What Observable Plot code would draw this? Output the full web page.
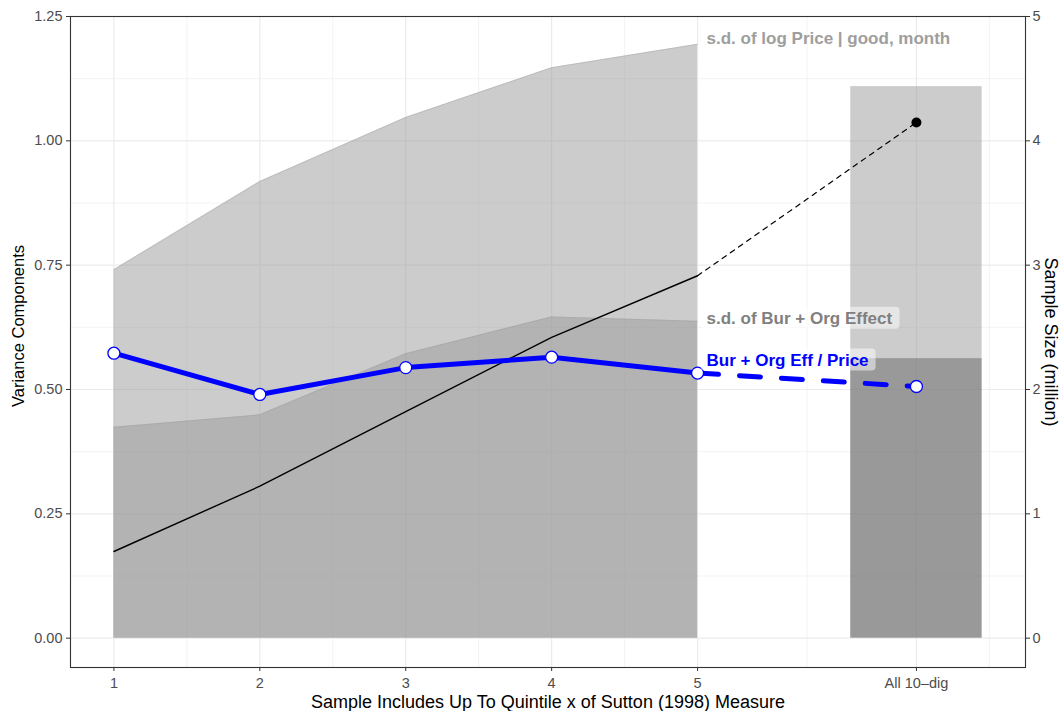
<!DOCTYPE html>
<html><head><meta charset="utf-8">
<script src="https://cdn.jsdelivr.net/npm/d3@7"></script>
<script src="https://cdn.jsdelivr.net/npm/@observablehq/plot@0.6"></script>
<style>
body{margin:0;background:#fff;}
#chart svg{font-family:"Liberation Sans",Arial,Helvetica,sans-serif;}
</style></head><body><div id="chart"></div>
<script>
// ---- data ----
const quintiles = [1, 2, 3, 4, 5];
const sdLogPrice = [0.741, 0.918, 1.047, 1.147, 1.194];
const sdBurOrg = [0.424, 0.449, 0.572, 0.646, 0.637];
const burOrgShare = [0.573, 0.490, 0.544, 0.565, 0.533];
const sampleSizeM = [0.697, 1.222, 1.822, 2.420, 2.915];
const allCategory = 6.5;
const allSdLogPrice = 1.109;
const allSdBurOrg = 0.562;
const allBurOrgShare = 0.506;
const allSampleSizeM = 4.148;
const xTickValues = [1, 2, 3, 4, 5, 6.5];
const xTickLabels = ["1", "2", "3", "4", "5", "All 10–dig"];
const yTickValues = [0, 0.25, 0.5, 0.75, 1, 1.25];
const yTickLabels = ["0.00", "0.25", "0.50", "0.75", "1.00", "1.25"];
const rightTickLabels = ["0", "1", "2", "3", "4", "5"];
const seriesLabels = ["s.d. of log Price | good, month", "s.d. of Bur + Org Effect", "Bur + Org Eff / Price"];
const xTitle = "Sample Includes Up To Quintile x of Sutton (1998) Measure";
const yTitle = "Variance Components";
const y2Title = "Sample Size (million)";

// ---- derived tables ----
const ratio = +rightTickLabels[rightTickLabels.length - 1] / yTickValues[yTickValues.length - 1];
const rows = quintiles.map((q, i) => ({q, p: sdLogPrice[i], b: sdBurOrg[i], s: burOrgShare[i], n: sampleSizeM[i] / ratio}));
const ext = [{q: quintiles[4], s: burOrgShare[4], n: sampleSizeM[4] / ratio}, {q: allCategory, s: allBurOrgShare, n: allSampleSizeM / ratio}];
const bars = [{q: allCategory, top: allSdLogPrice, fill: "#999999"}, {q: allCategory, top: allSdBurOrg, fill: "#666666"}];
const xMinor = d3.pairs(xTickValues).map(([a, b]) => (a + b) / 2).concat([allCategory + 0.5]);
const yMinor = d3.pairs(yTickValues).map(([a, b]) => (a + b) / 2);
const halfBar = 0.45;

function seriesLabel(i, yValue, dy, color, box) {
  return Plot.text([{q: quintiles[4], y: yValue, t: seriesLabels[i]}], {
    x: "q", y: "y", text: "t", dx: 9, dy, fill: color, textAnchor: "start",
    fontSize: 17, fontWeight: "bold", className: box ? "boxed-label" : "plain-label"
  });
}

const grid = "#ebebeb";
const chart = Plot.plot({
  width: 1063, height: 711,
  marginLeft: 70, marginRight: 38, marginTop: 16, marginBottom: 44,
  style: {fontFamily: "Liberation Sans, Arial, sans-serif", fontSize: "14.5px", color: "#4d4d4d", background: "#fff"},
  x: {domain: [0.7025, 7.2475], axis: null},
  y: {domain: [-0.059, 1.25], axis: null},
  marks: [
    Plot.gridX(xMinor, {stroke: grid, strokeOpacity: 1, strokeWidth: 0.6}),
    Plot.gridY(yMinor, {stroke: grid, strokeOpacity: 1, strokeWidth: 0.6}),
    Plot.gridX(xTickValues, {stroke: grid, strokeOpacity: 1, strokeWidth: 1.2}),
    Plot.gridY(yTickValues, {stroke: grid, strokeOpacity: 1, strokeWidth: 1.2}),
    Plot.rect(bars, {x1: d => d.q - halfBar, x2: d => d.q + halfBar, y1: 0, y2: "top", fill: "fill", fillOpacity: 0.5}),
    Plot.areaY(rows, {x: "q", y: "p", fill: "#999999", fillOpacity: 0.5}),
    Plot.areaY(rows, {x: "q", y: "b", fill: "#999999", fillOpacity: 0.5}),
    Plot.lineY(rows, {x: "q", y: "p", stroke: "#999999", strokeOpacity: 0.3, strokeWidth: 1}),
    Plot.lineY(rows, {x: "q", y: "b", stroke: "#999999", strokeOpacity: 0.3, strokeWidth: 1}),
    Plot.line(rows, {x: "q", y: "n", stroke: "#000", strokeWidth: 1.4}),
    Plot.line(ext, {x: "q", y: "n", stroke: "#000", strokeWidth: 1.2, strokeDasharray: "5,5"}),
    Plot.dot(ext.slice(1), {x: "q", y: "n", r: 5, fill: "#000", stroke: "none"}),
    Plot.line(rows, {x: "q", y: "s", stroke: "#0000ff", strokeWidth: 5}),
    Plot.line(ext, {x: "q", y: "s", stroke: "#0000ff", strokeWidth: 5, strokeDasharray: "21,21"}),
    Plot.dot(rows.concat(ext.slice(1)), {x: "q", y: "s", r: 6, fill: "#fff", stroke: "#0000ff", strokeWidth: 1.3}),
    seriesLabel(0, sdLogPrice[4], -6, "#9e9e9e", false),
    seriesLabel(1, sdBurOrg[4], -3, "#808080", true),
    seriesLabel(2, burOrgShare[4], -13, "#0000ff", true),
    Plot.frame({stroke: "#333", strokeWidth: 1.1}),
    Plot.axisX(xTickValues, {tickFormat: d => xTickLabels[xTickValues.indexOf(d)], tickSize: 4, tickPadding: 6, stroke: "#333", fill: "#4d4d4d", label: null}),
    Plot.axisY(yTickValues, {anchor: "left", tickFormat: d => yTickLabels[yTickValues.indexOf(d)], tickSize: 4, tickPadding: 4, stroke: "#333", fill: "#4d4d4d", label: null}),
    Plot.axisY(yTickValues, {anchor: "right", tickFormat: d => rightTickLabels[yTickValues.indexOf(d)], tickSize: 4, tickPadding: 3, stroke: "#333", fill: "#4d4d4d", label: null}),
    Plot.text([yTitle], {frameAnchor: "left", dx: -52, dy: -16, rotate: -90, textAnchor: "middle", lineAnchor: "middle", fontSize: 16.5, fill: "#000", text: d => d}),
    Plot.text([y2Title], {frameAnchor: "right", dx: 25, rotate: 90, textAnchor: "middle", lineAnchor: "middle", fontSize: 18, fill: "#000", text: d => d}),
    Plot.text([xTitle], {frameAnchor: "bottom", dy: 35, textAnchor: "middle", lineAnchor: "middle", fontSize: 18, fill: "#000", text: d => d})
  ]
});
document.getElementById("chart").appendChild(chart);

// label backgrounds (geom_label style) for boxed labels
chart.querySelectorAll(".boxed-label text").forEach((t) => {
  const bb = t.getBBox();
  const r = document.createElementNS("http://www.w3.org/2000/svg", "rect");
  r.setAttribute("x", bb.x - 6);
  r.setAttribute("y", bb.y - 2);
  r.setAttribute("width", bb.width + 13);
  r.setAttribute("height", bb.height + 3);
  r.setAttribute("rx", 4);
  r.setAttribute("fill", "#ffffff");
  r.setAttribute("fill-opacity", 0.5);
  r.setAttribute("stroke", "none");
  const tr = t.getAttribute("transform");
  if (tr) r.setAttribute("transform", tr);
  t.parentNode.insertBefore(r, t);
});
</script></body></html>
